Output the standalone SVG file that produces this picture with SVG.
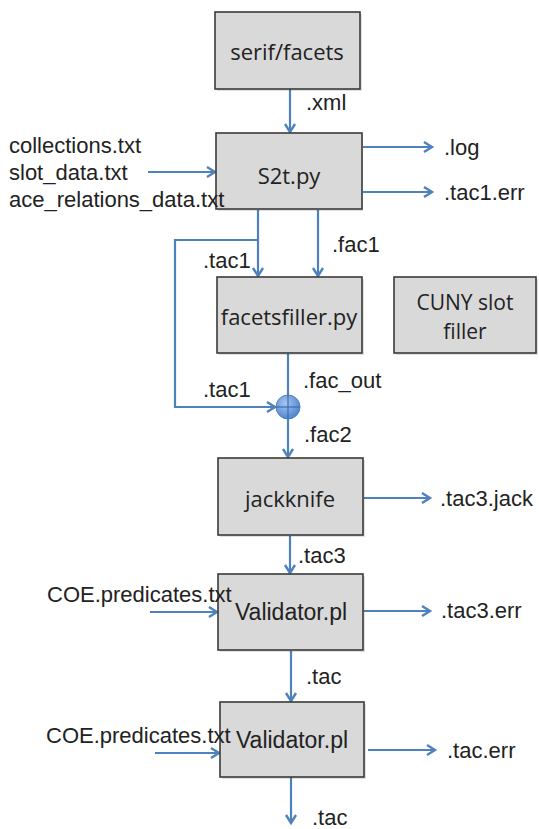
<svg xmlns="http://www.w3.org/2000/svg" width="539" height="829" viewBox="0 0 539 829">
<style>
.box{fill:#d9d9d9;stroke:#3a3a3a;stroke-width:1.6}
.shadow{fill:#000;opacity:0.12}
.bl{font-family:"Open Sans","Noto Sans",sans-serif;font-size:22px;fill:#222;text-anchor:middle}
.lb{font-family:"Liberation Sans",Arial,sans-serif;font-size:22px;fill:#222}
.vl{font-family:"Liberation Sans",Arial,sans-serif;font-size:23px;fill:#222;text-anchor:middle}
.c{fill:none;stroke:#4f81bd;stroke-width:2.2}
.a{marker-end:url(#ah)}
</style>
<defs>
<marker id="ah" markerUnits="userSpaceOnUse" markerWidth="14" markerHeight="14" refX="11" refY="7" orient="auto">
<path d="M3,2 L11,7 L3,12" fill="none" stroke="#4f81bd" stroke-width="2.4" stroke-linejoin="miter"/>
</marker>
<radialGradient id="cg" cx="0.4" cy="0.35" r="0.7">
<stop offset="0" stop-color="#a9c6ee"/>
<stop offset="1" stop-color="#4a80cc"/>
</radialGradient>
</defs>

<g id="connectors">
<line class="c a" x1="290" y1="89" x2="290" y2="132"/>
<line class="c a" x1="148" y1="172" x2="215" y2="172"/>
<line class="c a" x1="363" y1="147" x2="432" y2="147"/>
<line class="c a" x1="363" y1="192" x2="432" y2="192"/>
<line class="c a" x1="258" y1="210" x2="258" y2="276"/>
<line class="c a" x1="318" y1="210" x2="318" y2="276"/>
<polyline class="c a" points="258,240 175,240 175,407 275,407"/>
<line class="c" x1="288" y1="354" x2="288" y2="395"/>
<line class="c a" x1="288" y1="419" x2="288" y2="457"/>
<line class="c a" x1="364" y1="498" x2="430" y2="498"/>
<line class="c a" x1="290" y1="536" x2="290" y2="573"/>
<line class="c a" x1="150" y1="612" x2="217" y2="612"/>
<line class="c a" x1="364" y1="611" x2="430" y2="611"/>
<line class="c a" x1="291" y1="651" x2="291" y2="701"/>
<line class="c a" x1="155" y1="753" x2="219" y2="753"/>
<line class="c a" x1="368" y1="750" x2="435" y2="750"/>
<line class="c a" x1="291" y1="773" x2="291" y2="823"/>
</g>

<g id="serif-facets">
<rect class="shadow" x="217" y="14" width="145" height="77"/>
<rect class="box" x="215" y="12" width="145" height="77"/>
<text class="bl" x="287" y="60">serif/facets</text>
</g>
<g id="s2t">
<rect class="shadow" x="218" y="135" width="145" height="76"/>
<rect class="box" x="216" y="133" width="146" height="76"/>
<text class="bl" x="289" y="184">S2t.py</text>
</g>
<g id="facetsfiller">
<rect class="shadow" x="219" y="279" width="145" height="76"/>
<rect class="box" x="217" y="277" width="145" height="76"/>
<text class="bl" x="289" y="325">facetsfiller.py</text>
</g>
<g id="cuny">
<rect class="shadow" x="396" y="279" width="142" height="76"/>
<rect class="box" x="394" y="277" width="142" height="76"/>
<text class="bl" x="465" y="310" style="font-size:21px">CUNY slot</text>
<text class="bl" x="465" y="339" style="font-size:21px">filler</text>
</g>
<g id="junction">
<circle cx="288" cy="407" r="12" fill="url(#cg)" stroke="#4f81bd" stroke-width="1"/>
<line x1="276" y1="407" x2="300" y2="407" stroke="#3a6db5" stroke-width="1.2"/>
<line x1="288" y1="395" x2="288" y2="419" stroke="#3a6db5" stroke-width="1.2"/>
</g>
<g id="jackknife">
<rect class="shadow" x="220" y="460" width="145" height="77"/>
<rect class="box" x="218" y="458" width="145" height="77"/>
<text class="bl" x="290" y="507">jackknife</text>
</g>
<g id="validator1">
<rect class="shadow" x="220" y="576" width="145" height="76"/>
<rect class="box" x="218" y="574" width="145" height="76"/>
<text class="vl" x="291" y="620">Validator.pl</text>
</g>
<g id="validator2">
<rect class="shadow" x="222" y="704" width="144" height="75"/>
<rect class="box" x="220" y="702" width="144" height="75"/>
<text class="vl" x="292" y="748">Validator.pl</text>
</g>

<g id="labels">
<text class="lb" x="306" y="110">.xml</text>
<text class="lb" x="9" y="153">collections.txt</text>
<text class="lb" x="9" y="180">slot_data.txt</text>
<text class="lb" x="9" y="207">ace_relations_data.txt</text>
<text class="lb" x="444" y="155">.log</text>
<text class="lb" x="444" y="200">.tac1.err</text>
<text class="lb" x="332" y="252">.fac1</text>
<text class="lb" x="203" y="268">.tac1</text>
<text class="lb" x="303" y="388">.fac_out</text>
<text class="lb" x="203" y="397">.tac1</text>
<text class="lb" x="304" y="442">.fac2</text>
<text class="lb" x="440" y="506">.tac3.jack</text>
<text class="lb" x="298" y="563">.tac3</text>
<text class="lb" x="47" y="602">COE.predicates.txt</text>
<text class="lb" x="441" y="618">.tac3.err</text>
<text class="lb" x="306" y="684">.tac</text>
<text class="lb" x="46" y="743">COE.predicates.txt</text>
<text class="lb" x="447" y="758">.tac.err</text>
<text class="lb" x="312" y="825">.tac</text>
</g>
</svg>
